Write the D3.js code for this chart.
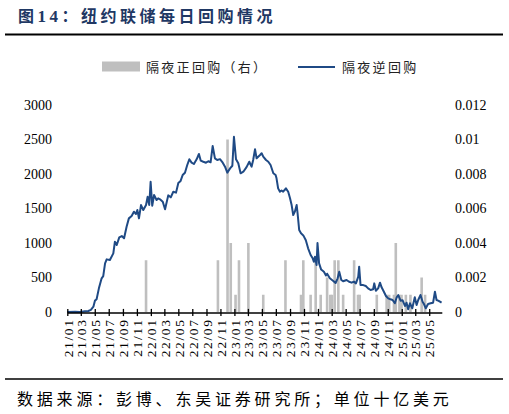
<!DOCTYPE html>
<html>
<head>
<meta charset="utf-8">
<script src="https://cdn.jsdelivr.net/npm/d3@7/dist/d3.min.js"></script>
<style>
  html, body { margin: 0; padding: 0; background: #fff; }
  svg { display: block; }
</style>
</head>
<body>
<div id="chart"></div>
<script>
// ---------------- DATA ----------------
const titleText = "图14：纽约联储每日回购情况";
const sourceText = "数据来源：彭博、东吴证券研究所；单位十亿美元";
const seriesNames = ["隔夜正回购（右）", "隔夜逆回购"];

const tickLabels = ["21/01","21/03","21/05","21/07","21/09","21/11",
  "22/01","22/03","22/05","22/07","22/09","22/11",
  "23/01","23/03","23/05","23/07","23/09","23/11",
  "24/01","24/03","24/05","24/07","24/09","24/11",
  "25/01","25/03","25/05"];
const leftTicks = [0, 500, 1000, 1500, 2000, 2500, 3000];
const rightTicks = [0, 0.002, 0.004, 0.006, 0.008, 0.01, 0.012];

// Overnight reverse repo (left axis, billion USD)
const rrpDates = ["2021-01-01","2021-02-04","2021-02-25","2021-03-19","2021-04-03","2021-04-14","2021-04-25","2021-05-02","2021-05-09","2021-05-19","2021-05-31","2021-06-07","2021-06-15","2021-06-22","2021-07-06","2021-07-21","2021-07-28","2021-08-05","2021-08-16","2021-08-27","2021-09-06","2021-09-17","2021-09-27","2021-10-09","2021-10-19","2021-10-28","2021-11-03","2021-11-10","2021-11-19","2021-11-29","2021-12-11","2021-12-18","2021-12-25","2021-12-31","2022-01-07","2022-01-15","2022-01-26","2022-02-02","2022-02-10","2022-02-22","2022-03-04","2022-03-18","2022-03-29","2022-04-09","2022-04-21","2022-05-01","2022-05-11","2022-05-20","2022-05-30","2022-06-09","2022-06-18","2022-06-28","2022-07-08","2022-07-20","2022-07-30","2022-08-07","2022-08-18","2022-08-30","2022-09-09","2022-09-19","2022-09-28","2022-10-08","2022-10-18","2022-10-30","2022-11-11","2022-11-21","2022-12-01","2022-12-13","2022-12-23","2022-12-30","2023-01-08","2023-01-18","2023-01-28","2023-02-09","2023-02-23","2023-03-07","2023-03-17","2023-03-24","2023-04-01","2023-04-08","2023-04-15","2023-04-23","2023-04-30","2023-05-07","2023-05-19","2023-05-29","2023-06-08","2023-06-20","2023-06-30","2023-07-04","2023-07-11","2023-07-19","2023-07-26","2023-08-02","2023-08-14","2023-08-24","2023-09-01","2023-09-08","2023-09-15","2023-09-22","2023-09-30","2023-10-04","2023-10-11","2023-10-19","2023-10-29","2023-11-09","2023-11-19","2023-11-30","2023-12-09","2023-12-14","2023-12-19","2023-12-26","2023-12-30","2024-01-06","2024-01-15","2024-01-27","2024-02-05","2024-02-10","2024-02-22","2024-03-08","2024-03-18","2024-03-27","2024-04-03","2024-04-12","2024-04-20","2024-05-05","2024-05-16","2024-05-27","2024-06-06","2024-06-15","2024-06-25","2024-06-29","2024-07-05","2024-07-17","2024-07-28","2024-08-07","2024-08-18","2024-08-29","2024-09-03","2024-09-10","2024-09-20","2024-09-28","2024-10-05","2024-10-15","2024-10-24","2024-11-03","2024-11-13","2024-11-22","2024-12-02","2024-12-10","2024-12-17","2024-12-27","2025-01-05","2025-01-15","2025-01-22","2025-01-29","2025-02-06","2025-02-16","2025-02-27","2025-03-07","2025-03-14","2025-03-24","2025-04-02","2025-04-08","2025-04-16","2025-04-26","2025-05-07","2025-05-18","2025-05-26","2025-06-02","2025-06-09","2025-06-17","2025-06-24"];
const rrpValues = [0,5,0,10,15,30,77,165,184,343,488,521,705,763,753,850,1019,971,1082,1101,1068,1236,1357,1391,1454,1420,1478,1357,1550,1478,1550,1671,1550,1888,1540,1695,1623,1647,1633,1598,1488,1690,1662,1743,1730,1870,1900,1985,2019,2130,2213,2164,2145,2213,2290,2193,2178,2164,2185,2170,2405,2227,2203,2215,2164,2106,2019,2082,2120,2540,2213,2155,2010,2033,2100,2178,2106,2203,2358,2227,2251,2275,2300,2251,2203,2178,2130,2010,1985,1937,1792,1743,1760,1743,1792,1743,1647,1550,1406,1454,1550,1430,1188,1140,1110,1040,923,826,778,729,802,681,1000,705,615,584,530,555,488,450,420,488,584,464,445,464,439,425,440,415,512,657,391,390,377,343,319,329,415,309,343,425,358,294,232,198,184,174,126,213,246,164,170,87,135,39,126,54,213,101,174,246,149,116,54,116,126,135,294,174,165,149,135];

// Overnight repo (right axis)
const repoDates = ["2021-12-11","2022-10-21","2022-12-02","2022-12-16","2023-01-06","2023-01-21","2023-03-03","2023-05-07","2023-08-12","2023-10-19","2023-10-29","2023-11-30","2023-12-22","2024-01-13","2024-02-10","2024-02-24","2024-03-02","2024-03-14","2024-03-30","2024-04-20","2024-06-07","2024-06-24","2024-07-01","2024-09-14","2024-10-27","2024-11-07","2024-11-28","2024-12-06","2024-12-22","2024-12-31","2025-01-19","2025-02-08","2025-03-29","2025-04-13"];
const repoValues = [0.003,0.003,0.01,0.004,0.001,0.003,0.004,0.001,0.003,0.001,0.003,0.001,0.003,0.001,0.002,0.001,0.001,0.003,0.003,0.001,0.003,0.001,0.001,0.001,0.001,0.001,0.001,0.004,0.001,0.001,0.001,0.001,0.002,0.001];

// ---------------- CHART ----------------
const W = 509, H = 414;
const parse = d3.timeParse("%Y-%m-%d");
const rrp = rrpDates.map((d, i) => ({ date: parse(d), value: rrpValues[i] }));
const repo = repoDates.map((d, i) => ({ date: parse(d), value: repoValues[i] }));
const tickDates = tickLabels.map(s => new Date(2000 + +s.slice(0, 2), +s.slice(3) - 1, 1));

const svg = d3.select("#chart").append("svg").attr("width", W).attr("height", H);

const cjk = "'Noto Sans CJK SC', 'Noto Sans', sans-serif";
const serif = "'Liberation Serif', 'DejaVu Serif', serif";

// Title
const title = svg.append("text")
  .attr("x", 18).attr("y", 22)
  .attr("font-family", cjk).attr("font-weight", "bold")
  .attr("font-size", 16).attr("letter-spacing", 3.5)
  .attr("fill", "#1f3864");
title.append("tspan").text("图");
title.append("tspan").attr("font-family", serif).attr("font-size", 17).text("14");
title.append("tspan").text("：纽约联储每日回购情况");

// Rules
svg.append("line").attr("x1", 5).attr("x2", 503).attr("y1", 34.5).attr("y2", 34.5)
  .attr("stroke", "#000").attr("stroke-width", 1.8);
svg.append("line").attr("x1", 5).attr("x2", 503).attr("y1", 379).attr("y2", 379)
  .attr("stroke", "#000").attr("stroke-width", 1.5);

// Source
svg.append("text").attr("x", 17).attr("y", 405)
  .attr("font-family", cjk).attr("font-size", 16).attr("letter-spacing", 3.8)
  .attr("fill", "#000").text(sourceText);

// Scales
const x = d3.scaleTime().domain([new Date(2021, 0, 1), new Date(2025, 5, 25)]).range([67.3, 441.8]);
const yL = d3.scaleLinear().domain([0, 3000]).range([312, 105]);
const yR = d3.scaleLinear().domain([0, 0.012]).range([312, 105]);

// Legend
const lg = svg.append("g");
lg.append("rect").attr("x", 102).attr("y", 61.5).attr("width", 38).attr("height", 10).attr("fill", "#bfbfbf");
lg.append("text").attr("x", 146).attr("y", 71.5)
  .attr("font-family", cjk).attr("font-size", 13).attr("letter-spacing", 2.3)
  .attr("fill", "#222").text(seriesNames[0]);
lg.append("line").attr("x1", 298).attr("x2", 335).attr("y1", 67).attr("y2", 67)
  .attr("stroke", "#1f4a85").attr("stroke-width", 2);
lg.append("text").attr("x", 342).attr("y", 71.5)
  .attr("font-family", cjk).attr("font-size", 13).attr("letter-spacing", 2.3)
  .attr("fill", "#222").text(seriesNames[1]);

// Bars (right axis)
svg.append("g").selectAll("rect").data(repo).join("rect")
  .attr("x", d => x(d.date) - 1.3)
  .attr("width", 2.6)
  .attr("y", d => yR(d.value))
  .attr("height", d => yR(0) - yR(d.value))
  .attr("fill", "#bfbfbf");

// Line (left axis)
const line = d3.line().x(d => x(d.date)).y(d => yL(d.value));
svg.append("path").datum(rrp)
  .attr("d", line)
  .attr("fill", "none")
  .attr("stroke", "#1f4a85")
  .attr("stroke-width", 2)
  .attr("stroke-linejoin", "round");

// Left axis
const gl = svg.append("g").attr("transform", "translate(52,0)")
  .call(d3.axisLeft(yL).tickValues(leftTicks).tickSize(0).tickPadding(0).tickFormat(d3.format("d")));
gl.select(".domain").remove();
gl.selectAll("text").attr("font-family", serif).attr("font-size", 14).attr("fill", "#000");

// Right axis
const gr = svg.append("g").attr("transform", "translate(455,0)")
  .call(d3.axisRight(yR).tickValues(rightTicks).tickSize(0).tickPadding(0).tickFormat(d => d === 0 ? "0" : d3.format(".3~f")(d)));
gr.select(".domain").remove();
gr.selectAll("text").attr("font-family", serif).attr("font-size", 14).attr("fill", "#000");

// Bottom axis
const gx = svg.append("g").attr("transform", "translate(0,312.5)")
  .call(d3.axisBottom(x).tickValues(tickDates).tickSizeInner(4).tickSizeOuter(0)
    .tickFormat((d, i) => tickLabels[i]));
gx.select(".domain").attr("stroke", "#000").attr("stroke-width", 1.4);
gx.selectAll(".tick line").attr("y1", -3.6).attr("y2", 3.6).attr("stroke", "#000").attr("stroke-width", 1.3);
gx.selectAll(".tick text")
  .attr("font-family", serif).attr("font-size", 13.5).attr("letter-spacing", 1.6)
  .attr("fill", "#000")
  .attr("text-anchor", "end")
  .attr("transform", "rotate(-90)")
  .attr("x", -6).attr("y", 0).attr("dy", "0.35em");
</script>
</body>
</html>
